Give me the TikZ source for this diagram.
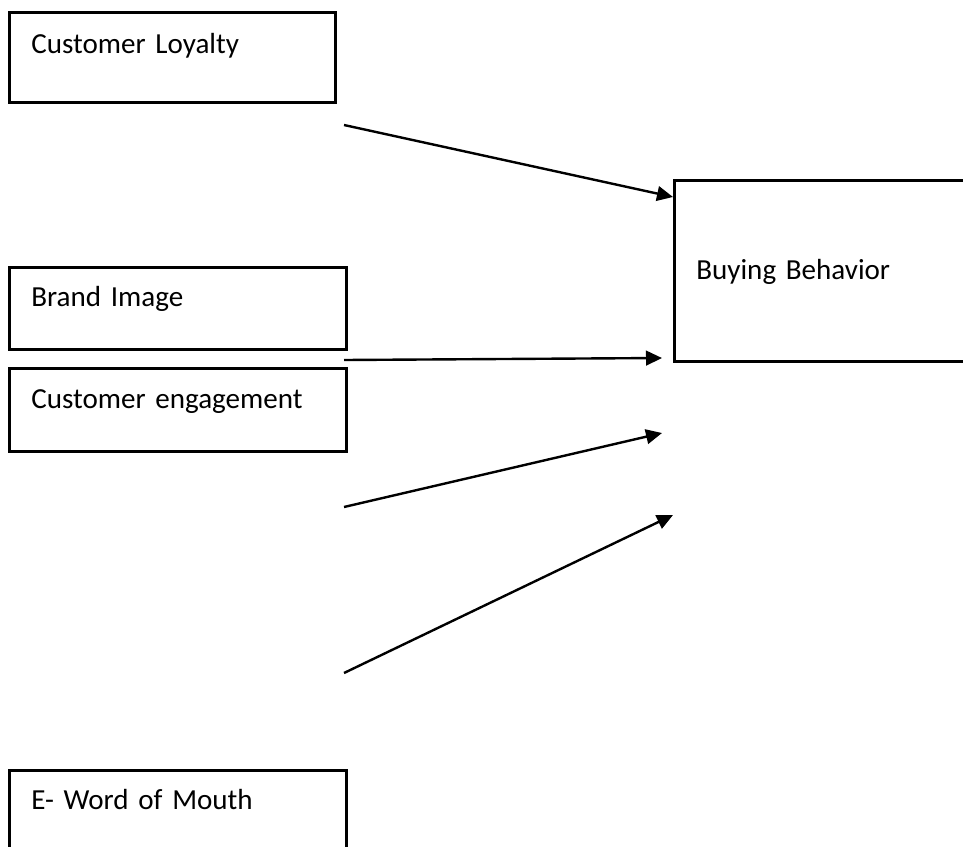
\documentclass[tikz,border=0pt]{standalone}
\usepackage{fontspec}
\setmainfont{Carlito}
\usetikzlibrary{arrows.meta,positioning}

\begin{document}
\begin{tikzpicture}[
    x=0.75pt, y=-0.75pt,
    factor/.style={rectangle, draw=black, line width=2pt, anchor=north west, inner xsep=16.5pt, inner ysep=0pt, align=left, font=\fontsize{21.8}{26}\selectfont},
    arrow/.style={-{Triangle[length=12pt,width=11pt]}, line width=1.8pt}
]
    \useasboundingbox (0,0) rectangle (963,846);
    \clip (0,0) rectangle (963,846);

    % Independent factors (left column)
    \node[factor, text width=211.5pt, text height=30.75pt, text depth=36.75pt] (loyalty) at (8,11) {Customer Loyalty};
    \node[factor, text width=219.75pt, text height=29.25pt, text depth=32.25pt] (brand) at (8,266) {Brand Image};
    \node[factor, text width=219.75pt, text height=30pt, text depth=32.25pt] (engage) at (8,367) {Customer engagement};
    \node[factor, text width=219.75pt, text height=29.25pt, text depth=32.25pt] (ewom) at (8,769) {E- Word of Mouth};

    % Dependent factor (right)
    \node[factor, text width=195pt, text height=74.25pt, text depth=61.5pt] (buying) at (673,179) {Buying Behavior};

    % Arrow ends
    \coordinate (s1) at (344,125);
    \coordinate (s2) at (344,360);
    \coordinate (s3) at (344,507);
    \coordinate (s4) at (344,673);
    \coordinate (e2) at (662,358);
    \coordinate (e3) at (662,433);
    \coordinate (e4) at (673,515);

    % Arrows
    \draw[arrow] (s1) -- (buying.west |- 0,197);
    \draw[arrow] (s2) -- (e2);
    \draw[arrow] (s3) -- (e3);
    \draw[arrow] (s4) -- (e4);
\end{tikzpicture}
\end{document}
